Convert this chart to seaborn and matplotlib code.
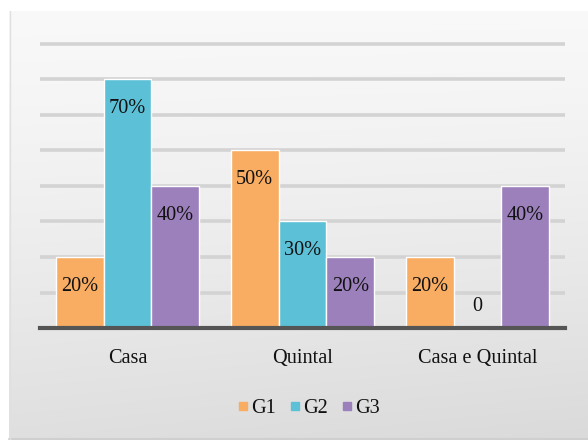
import numpy as np
import pandas as pd
import matplotlib
matplotlib.use("Agg")
import matplotlib.pyplot as plt
from matplotlib.lines import Line2D
import seaborn as sns

# Data
locais = ["Casa", "Quintal", "Casa e Quintal"]
grupos = ["G1", "G2", "G3"]
g1 = [20, 50, 20]
g2 = [70, 30, 0]
g3 = [40, 20, 40]
cores = ["#F8AD63", "#5CC0D7", "#9C80BB"]

df = pd.DataFrame({
    "local": locais * 3,
    "grupo": [g for g in grupos for _ in locais],
    "valor": g1 + g2 + g3,
})

sns.set_theme(style="white")
plt.rcParams["font.family"] = ["Liberation Serif", "DejaVu Serif"]

FS = 14.6
W, H = 588, 440
fig = plt.figure(figsize=(W / 100, H / 100), dpi=100)
fig.patch.set_facecolor("white")

# Gradient panel behind the chart
bg = fig.add_axes([9 / W, 0, 1 - 9 / W, 1 - 11 / H], zorder=0)
yy = np.linspace(0, 1, 200)[:, None]
xx = np.linspace(0, 1, 200)[None, :]
shade = 0.975 - 0.10 * yy ** 1.3 - 0.02 * xx * yy
bg.imshow(np.dstack([shade] * 3), aspect="auto", extent=[0, 1, 1, 0])
bg.set_xlim(0, 1)
bg.set_ylim(1, 0)
bg.axis("off")
bg.plot([0, 1], [0.003, 0.003], color="#cfcfcf", lw=1.5, transform=bg.transAxes, clip_on=False)
bg.plot([0.001, 0.001], [0, 1], color="#e0e0e0", lw=1.0, transform=bg.transAxes, clip_on=False)

# Main axes
px_per_10 = 35.5
ymax = 81
ax_h = ymax / 10 * px_per_10 / H
ax = fig.add_axes([40 / W, 1 - 328 / H, 525 / W, ax_h], zorder=2)
ax.patch.set_alpha(0)

sns.barplot(data=df, x="local", y="valor", hue="grupo", hue_order=grupos,
            order=locais, palette=cores, saturation=1, width=0.82,
            edgecolor="white", linewidth=1.0, ax=ax, legend=False, zorder=3)

ax.set_ylim(0, ymax)
ax.set_yticks(range(0, 81, 10))
ax.yaxis.grid(True, color="#d3d3d3", lw=2.6, zorder=0)
ax.set_axisbelow(True)
ax.tick_params(axis="y", left=False, labelleft=False)
ax.tick_params(axis="x", bottom=False, pad=9, labelsize=FS, labelcolor="#111111")
for s in ["top", "right", "left"]:
    ax.spines[s].set_visible(False)
ax.spines["bottom"].set_color("#555555")
ax.spines["bottom"].set_linewidth(3)
ax.spines["bottom"].set_zorder(5)
ax.set_xlabel("")
ax.set_ylabel("")

# Value labels
for cont in ax.containers:
    for bar, v in zip(cont.patches, cont.datavalues):
        cx = bar.get_x() + bar.get_width() / 2
        if v == 0:
            ax.annotate("0", (cx, 0), xytext=(0, 15.5), textcoords="offset points",
                        ha="center", va="center", fontsize=FS, color="#111111", zorder=6)
        else:
            ax.annotate(f"{v:.0f}%", (cx, v), xytext=(0, -21), textcoords="offset points",
                        ha="center", va="center", fontsize=FS, color="#111111", zorder=6)

# Legend
handles = [Line2D([], [], marker="s", ls="", markersize=6, color=c) for c in cores]
fig.legend(handles, grupos, loc="center", bbox_to_anchor=(309 / W, 1 - 408 / H),
           ncol=3, frameon=False, fontsize=FS, handlelength=0.5, handletextpad=0.15,
           columnspacing=0.7, labelcolor="#111111")

fig.savefig("out.png", dpi=100)
